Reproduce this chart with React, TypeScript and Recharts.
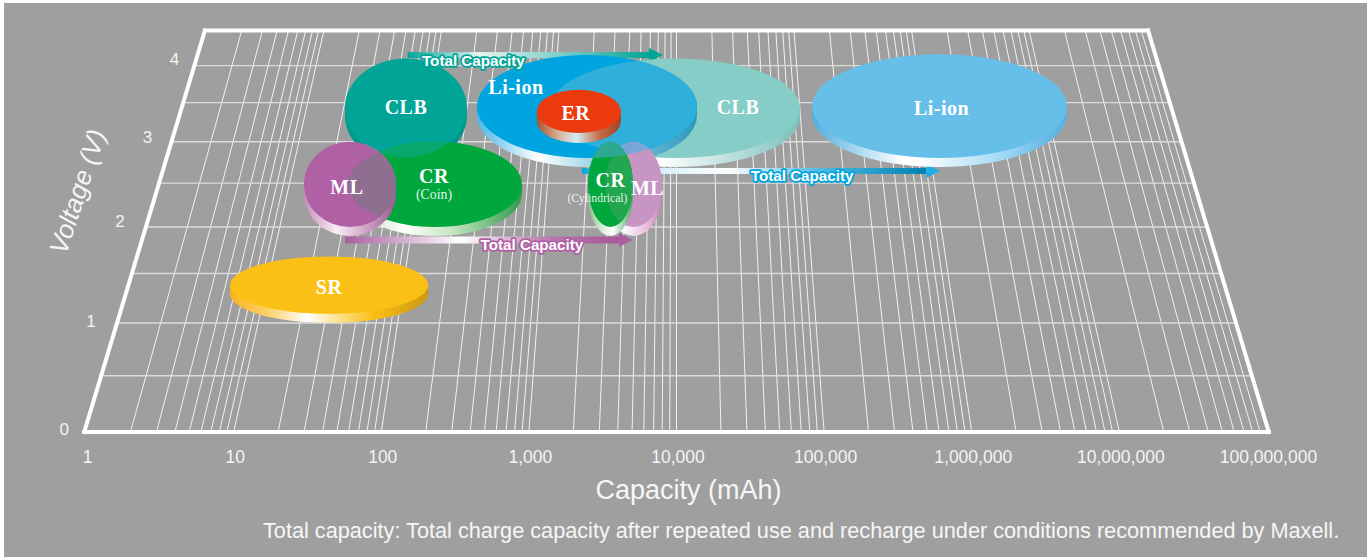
import React from 'react'
import { ScatterChart, Scatter, XAxis, YAxis, ReferenceLine } from 'recharts'

// capacity in mAh, voltage in V
const batteryIds = ['clbBig', 'liBig', 'liSmall', 'sr', 'er', 'clbSmall', 'crCoin', 'mlLeft', 'mlRight', 'crCyl']
const batteryNames = ['CLB', 'Li-ion', 'Li-ion', 'SR', 'ER', 'CLB', 'CR', 'ML', 'ML', 'CR']
const batterySubNames = ['', '', '', '', '', '', '(Coin)', '', '', '(Cylindrical)']
const capacityLow = [940, 126000, 240, 5.4, 741, 20.5, 28.5, 13, 2790, 2060]
const capacityHigh = [100500, 14800000, 14660, 152, 3550, 200, 635, 67, 7730, 4600]
const voltageLow = [2.8, 2.8, 2.8, 1.09, 3.11, 2.81, 2.0, 2.0, 2.0, 2.0]
const voltageHigh = [4.1, 4.16, 4.15, 1.68, 3.67, 4.1, 3.0, 3.0, 3.0, 3.0]

const arrowIds = ['teal', 'blue', 'pink']
const arrowLow = [56, 1830, 32.5]
const arrowHigh = [7700, 1146000, 4700]
const arrowVoltage = [4.147, 2.644, 1.857]

const capacityTicks = [0, 1, 2, 3, 4, 5, 6, 7, 8]
const capacityTickLabels = ['1', '10', '100', '1,000', '10,000', '100,000', '1,000,000', '10,000,000', '100,000,000']
const gridMultipliers = [1, 2, 3, 4, 5, 6, 7, 8, 9]
const voltageTicks = [0, 1, 2, 3, 4]
const voltageRows = [0.5, 1, 1.5, 2, 2.5, 3, 3.5, 4]
const FLOOR_TOP_VOLTAGE = 4.5

// floor projection: voltage goes away from the viewer, lines lean to the centre
const DEPTH_K = 116.4
const DEPTH_A = 0.0677
const SHRINK = 0.2035 / 401
const depthOf = (v: number) => (DEPTH_K * v) / (1 + DEPTH_A * v)
const lateral = (logC: number, depth: number) => 4 + (logC - 4) * (1 - SHRINK * depth)

const X_MIN = -0.03
const X_MAX = 8.03
const DEPTH_MAX = 401
const PLOT_LEFT = 81.6
const PLOT_RIGHT = 1271.4
const PX_PER_X = (PLOT_RIGHT - PLOT_LEFT) / (X_MAX - X_MIN)
const FRAME_LOW = -0.012
const FRAME_HIGH = 8.012

const serif = '"Liberation Serif", serif'
const sans = '"Liberation Sans", sans-serif'

type Stop = [number, string]
const batteryStyles: Record<string, any> = {
  clbBig: { fill: '#85cdc6', t: 9, side: [[0, '#bfe2de'], [0.44, '#ffffff'], [1, '#7cc0ba']], dx: 63, dy: -1 },
  liBig: { fill: '#66bfe9', t: 9, side: [[0, '#4faedf'], [0.35, '#ffffff'], [0.42, '#ffffff'], [0.75, '#a0d8f5'], [0.9, '#6cbce4'], [1, '#5ab1dc']], dx: 2, dy: 1.5 },
  liSmall: { fill: '#00a5df', t: 9, side: [[0, '#4cb6e8'], [0.28, '#ffffff'], [0.5, '#a9d9ea'], [1, '#2b98bb']], dx: -71, dy: -19 },
  sr: { fill: '#fbc015', t: 9, side: [[0, '#f7b41c'], [0.2, '#fdd36e'], [0.39, '#ffffff'], [0.72, '#fbc015'], [1, '#c99a12']], dx: 0, dy: 2 },
  er: { fill: '#ea3a0e', t: 10, side: [[0, '#a94f2f'], [0.25, '#d6b097'], [0.47, '#d2ecf0'], [0.75, '#c26b47'], [1, '#a5412a']], dx: -3, dy: 2 },
  crCoin: { fill: '#00a73c', t: 9, side: [[0, '#a9d6a5'], [0.32, '#ffffff'], [0.6, '#c6e5c2'], [1, '#2c9c4c']], dx: -1, dy: -8, subDx: -1, subDy: 10.5, subSize: 13.8 },
  mlLeft: { fill: '#b060a4', t: 9, side: [[0, '#c78bbc'], [0.35, '#f8eef6'], [0.6, '#d9b5d2'], [1, '#9a5a92']], dx: -3, dy: 2.5 },
  clbSmall: { fill: '#00a597', t: 8, side: [[0, '#019a8d'], [1, '#01978b']], dx: 0, dy: -0.5 },
  mlRight: { fill: '#c695c4', t: 9, side: [[0, '#e5c4df'], [0.3, '#ffffff'], [0.75, '#e8b8dc'], [1, '#c77fb6']], dx: 14, dy: 3.5 },
  crCyl: { fill: '#00a73c', t: 9, side: [[0, '#7fc28a'], [0.35, '#dff0dc'], [0.55, '#ffffff'], [1, '#4aa860']], dx: 0, dy: -4.5, subDx: -13, subDy: 14.5, subSize: 11.6 },
}
const arrowStyles: Record<string, any> = {
  teal: { stops: [[0, '#00a597'], [0.3, '#e8f5f3'], [1, '#00a597']], head: '#00a597', h: 6, headH: 14, labelDx: -62, labelDy: 5, outline: '#00a597' },
  blue: { stops: [[0, '#00a5df'], [0.1, '#bfe4f5'], [0.42, '#ffffff'], [0.7, '#4fb8e0'], [1, '#0082b4']], head: '#1cade4', h: 6, headH: 14, labelDx: 41, labelDy: 5, outline: '#00a5df' },
  pink: { stops: [[0, '#a85f9f'], [0.42, '#ffffff'], [0.75, '#b878ae'], [1, '#a8579b']], head: '#ac5ea0', h: 7, headH: 14, labelDx: 43, labelDy: 5, outline: '#b060a4' },
}
const overlaps = [
  { of: 'clbBig', within: 'liSmall', fill: '#2fb0da', pass: 0 },
  { of: 'clbSmall', within: 'crCoin', fill: '#08a76b', pass: 1 },
  { of: 'clbSmall', within: 'mlLeft', fill: '#6c8a9c', pass: 1 },
  { of: 'mlLeft', within: 'crCoin', fill: '#8f6f90', pass: 1 },
  { of: 'mlRight', within: 'liSmall', fill: '#78a6d8', pass: 2 },
  { of: 'crCyl', within: 'mlRight', fill: '#22a64f', pass: 2 },
  { of: 'crCyl', within: 'liSmall', fill: '#2fa892', pass: 2 },
]
const voltageLabelNudge = [[-20, -3], [-26, -1], [-26, -5], [-24, -4], [-20, -6]]

const batteries = batteryIds.map((id, i) => {
  const dLow = depthOf(voltageLow[i])
  const dHigh = depthOf(voltageHigh[i])
  const depth = (dLow + dHigh) / 2
  const left = lateral(Math.log10(capacityLow[i]), depth)
  const right = lateral(Math.log10(capacityHigh[i]), depth)
  return {
    id,
    name: batteryNames[i],
    sub: batterySubNames[i],
    x: (left + right) / 2,
    y: depth,
    rx: ((right - left) / 2) * PX_PER_X,
    ry: ((dHigh - dLow) / 2) * ((432 - 31) / DEPTH_MAX),
  }
})
const batteriesIn = (ids: string[]) => ids.map((id) => batteries.find((b) => b.id === id))
const overlapsIn = (pass: number) =>
  overlaps.filter((o) => o.pass === pass).map((o) => ({ ...batteries.find((b) => b.id === o.of), within: o.within, overlapFill: o.fill }))

const arrows = arrowIds.map((id, i) => {
  const depth = depthOf(arrowVoltage[i])
  const left = lateral(Math.log10(arrowLow[i]), depth)
  const right = lateral(Math.log10(arrowHigh[i]), depth)
  return { id, x: (left + right) / 2, y: depth, half: ((right - left) / 2) * PX_PER_X }
})

const BatteryShape = ({ cx, cy, payload }: any) => {
  const s = batteryStyles[payload.id]
  const { rx, ry } = payload
  return (
    <g>
      <defs>
        <linearGradient id={`side-${payload.id}`} x1="0" x2="1" y1="0" y2="0">
          {s.side.map(([o, c]: Stop) => (
            <stop key={o} offset={o} stopColor={c} />
          ))}
        </linearGradient>
        <clipPath id={`clip-${payload.id}`}>
          <ellipse cx={cx} cy={cy} rx={rx} ry={ry} />
        </clipPath>
      </defs>
      <path
        d={`M${cx - rx} ${cy} v${s.t} A${rx} ${ry} 0 0 0 ${cx + rx} ${cy + s.t} V${cy} Z`}
        fill={`url(#side-${payload.id})`}
      />
      <ellipse cx={cx} cy={cy} rx={rx} ry={ry} fill={s.fill} />
    </g>
  )
}

const OverlapShape = ({ cx, cy, payload }: any) => (
  <ellipse cx={cx} cy={cy} rx={payload.rx} ry={payload.ry} fill={payload.overlapFill} clipPath={`url(#clip-${payload.within})`} />
)

const BatteryLabel = ({ cx, cy, payload }: any) => {
  const s = batteryStyles[payload.id]
  return (
    <g fontFamily={serif} fill="#ffffff" textAnchor="middle" dominantBaseline="central">
      <text x={cx + s.dx} y={cy + s.dy} fontSize={20} fontWeight="bold" letterSpacing={0.5}>
        {payload.name}
      </text>
      {payload.sub ? (
        <text x={cx + s.subDx} y={cy + s.subDy} fontSize={s.subSize} fillOpacity={0.9}>
          {payload.sub}
        </text>
      ) : null}
    </g>
  )
}

const ArrowShape = ({ cx, cy, payload }: any) => {
  const s = arrowStyles[payload.id]
  const start = cx - payload.half
  const end = cx + payload.half
  const headStart = end - 14
  return (
    <g>
      <defs>
        <linearGradient id={`arrow-${payload.id}`} x1="0" x2="1" y1="0" y2="0">
          {s.stops.map(([o, c]: Stop) => (
            <stop key={o} offset={o} stopColor={c} />
          ))}
        </linearGradient>
      </defs>
      <rect x={start} y={cy - s.h / 2} width={headStart - start} height={s.h} fill={`url(#arrow-${payload.id})`} />
      <polygon points={`${headStart},${cy - s.headH / 2} ${end},${cy} ${headStart},${cy + s.headH / 2}`} fill={s.head} />
    </g>
  )
}

const ArrowLabel = ({ cx, cy, payload }: any) => {
  const s = arrowStyles[payload.id]
  return (
    <text
      x={cx + s.labelDx}
      y={cy + s.labelDy}
      textAnchor="middle"
      dominantBaseline="central"
      fontFamily={sans}
      fontWeight="bold"
      fontSize={15.2}
      fill="#ffffff"
      stroke={s.outline}
      strokeWidth={3.5}
      strokeLinejoin="round"
      paintOrder="stroke"
    >
      Total Capacity
    </text>
  )
}

const VoltageTick = ({ cx, cy, payload }: any) => {
  const [dx, dy] = voltageLabelNudge[payload.v]
  return (
    <text x={cx + dx} y={cy + dy} textAnchor="middle" dominantBaseline="central" fontFamily={sans} fontSize={17} fill="#f4f4f4">
      {String(payload.v)}
    </text>
  )
}

const frameCorners = [
  [FRAME_LOW, 0],
  [FRAME_HIGH, 0],
  [FRAME_HIGH, FLOOR_TOP_VOLTAGE],
  [FRAME_LOW, FLOOR_TOP_VOLTAGE],
].map(([logC, v]) => ({ x: lateral(logC, depthOf(v)), y: depthOf(v) }))

const gridCapacities = capacityTicks.flatMap((decade) =>
  gridMultipliers.map((m) => decade + Math.log10(m)).filter((logC) => logC > 0 && logC < 8)
)

export default function App() {
  const topDepth = depthOf(FLOOR_TOP_VOLTAGE)
  return (
    <div style={{ position: 'absolute', left: 0, top: 0, width: 1371, height: 557, background: '#ffffff', overflow: 'hidden' }}>
      <div style={{ position: 'absolute', left: 4, top: 3, width: 1363, height: 554, background: '#9f9f9f' }} />
      <div style={{ position: 'absolute', left: 0, top: 0 }}>
        <ScatterChart
          width={1371}
          height={557}
          margin={{ left: PLOT_LEFT, right: 1371 - PLOT_RIGHT, top: 31, bottom: 0 }}
        >
          <XAxis
            dataKey="x"
            type="number"
            domain={[X_MIN, X_MAX]}
            ticks={capacityTicks}
            tickFormatter={(t: number) => capacityTickLabels[t]}
            interval={0}
            height={125}
            axisLine={false}
            tickLine={false}
            tickSize={0}
            tickMargin={19}
            tick={{ fill: '#f4f4f4', fontSize: 17.5, fontFamily: sans, dx: 1.5 }}
          />
          <YAxis dataKey="y" type="number" domain={[0, DEPTH_MAX]} hide />

          {gridCapacities.map((logC) => (
            <ReferenceLine
              key={logC}
              ifOverflow="visible"
              stroke="#f2f2f2"
              strokeWidth={1}
              segment={[
                { x: lateral(logC, 0), y: 0 },
                { x: lateral(logC, topDepth), y: topDepth },
              ]}
            />
          ))}
          {voltageRows.map((v) => (
            <ReferenceLine
              key={v}
              ifOverflow="visible"
              stroke="#dcdcdc"
              strokeWidth={1.4}
              segment={[
                { x: lateral(FRAME_LOW, depthOf(v)), y: depthOf(v) },
                { x: lateral(FRAME_HIGH, depthOf(v)), y: depthOf(v) },
              ]}
            />
          ))}
          {frameCorners.map((corner, i) => (
            <ReferenceLine
              key={i}
              ifOverflow="visible"
              stroke="#ffffff"
              strokeWidth={4}
              strokeLinecap="square"
              segment={[corner, frameCorners[(i + 1) % 4]]}
            />
          ))}

          <Scatter
            data={voltageTicks.map((v) => ({ v, x: lateral(FRAME_LOW, depthOf(v)), y: depthOf(v) }))}
            shape={VoltageTick}
            isAnimationActive={false}
          />
          <Scatter data={arrows.filter((a) => a.id !== 'pink')} shape={ArrowShape} isAnimationActive={false} />
          <Scatter data={batteriesIn(['clbBig', 'liBig', 'liSmall'])} shape={BatteryShape} isAnimationActive={false} />
          <Scatter data={overlapsIn(0)} shape={OverlapShape} isAnimationActive={false} />
          <Scatter data={batteriesIn(['sr', 'er', 'clbSmall', 'crCoin', 'mlLeft'])} shape={BatteryShape} isAnimationActive={false} />
          <Scatter data={overlapsIn(1)} shape={OverlapShape} isAnimationActive={false} />
          <Scatter data={batteriesIn(['mlRight', 'crCyl'])} shape={BatteryShape} isAnimationActive={false} />
          <Scatter data={overlapsIn(2)} shape={OverlapShape} isAnimationActive={false} />
          <Scatter data={arrows.filter((a) => a.id === 'pink')} shape={ArrowShape} isAnimationActive={false} />
          <Scatter data={arrows} shape={ArrowLabel} isAnimationActive={false} />
          <Scatter data={batteries} shape={BatteryLabel} isAnimationActive={false} />
        </ScatterChart>
      </div>
      <div style={{ position: 'absolute', left: 0, width: 1377, top: 475, textAlign: 'center', fontFamily: sans, fontSize: 27, lineHeight: '30px', color: '#f6f6f6' }}>
        Capacity (mAh)
      </div>
      <div
        style={{
          position: 'absolute',
          left: 16,
          top: 181,
          width: 120,
          textAlign: 'center',
          fontFamily: sans,
          fontStyle: 'italic',
          fontSize: 26,
          lineHeight: '30px',
          color: '#f6f6f6',
          whiteSpace: 'nowrap',
          transform: 'rotate(-72deg)',
        }}
      >
        Voltage (V)
      </div>
      <div style={{ position: 'absolute', left: 263, top: 519, whiteSpace: 'nowrap', fontFamily: sans, fontSize: 21.7, lineHeight: '24px', color: '#f6f6f6' }}>
        Total capacity: Total charge capacity after repeated use and recharge under conditions recommended by Maxell.
      </div>
    </div>
  )
}
